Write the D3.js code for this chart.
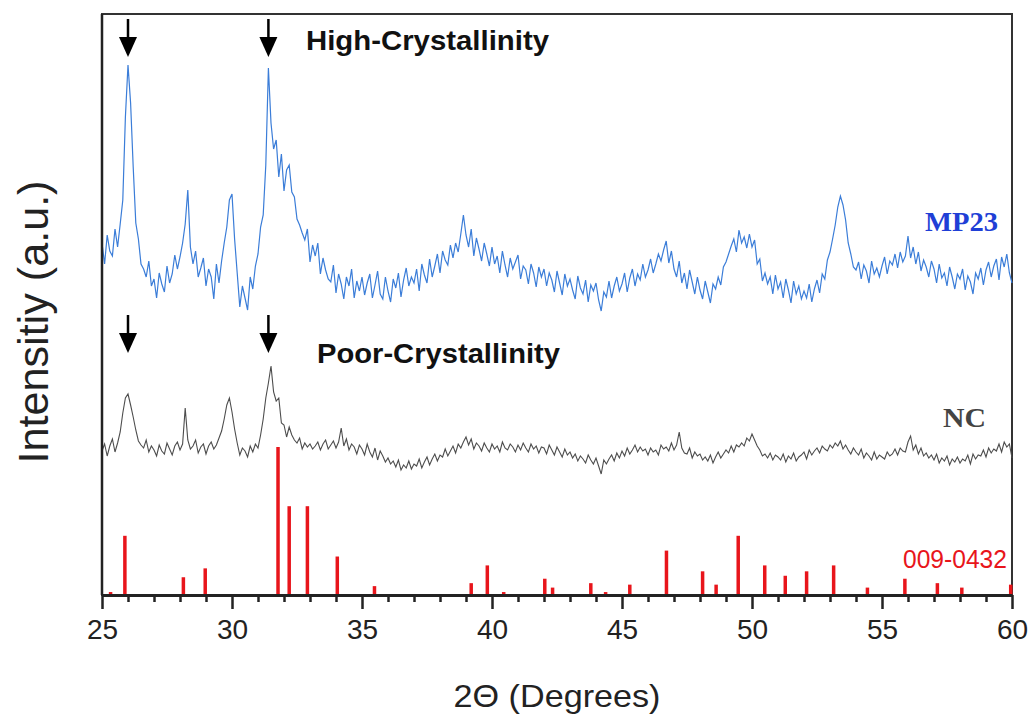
<!DOCTYPE html>
<html>
<head>
<meta charset="utf-8">
<script src="https://cdn.jsdelivr.net/npm/d3@7"></script>
<style>
  html, body { margin: 0; padding: 0; background: #fff; }
  svg { display: block; }
</style>
</head>
<body>
<svg id="chart" width="1034" height="716"></svg>
<script>
// ---------------- DATA ----------------
const angleStart = 25.0;   // 2-theta of first sample
const angleStep = 0.1;     // sampling step (degrees)

// MP23 (high crystallinity) pattern, a.u., 25.0 .. 60.0 step 0.1
const mp23 = [
  352,331,360,344,339,366,348,371,395,478,
  530,492,428,372,356,331,326,318,334,309,
  316,297,322,311,303,329,312,321,340,326,
  338,352,371,405,348,331,344,318,327,337,
  309,326,318,296,331,312,334,352,368,395,
  401,356,322,288,309,297,285,318,306,329,
  341,368,380,430,527,472,446,455,418,441,
  404,425,430,403,398,376,370,362,355,366,
  333,350,339,352,321,337,325,316,313,330,
  302,321,311,296,318,309,326,297,314,304,
  318,300,312,321,297,310,324,301,296,318,
  304,293,316,307,322,298,315,327,309,318,
  312,326,304,331,320,312,336,318,329,341,
  322,344,335,330,350,337,352,343,361,380,
  360,348,366,339,357,346,334,352,341,329,
  348,331,339,322,344,330,318,337,326,333,
  340,316,329,325,311,331,322,308,328,318,
  326,309,322,315,303,324,312,300,321,309,
  316,305,296,319,307,301,315,293,310,304,
  312,295,284,303,298,314,297,309,318,304,
  311,322,303,317,326,309,321,315,331,318,
  325,336,322,331,341,334,345,354,332,344,
  326,318,334,312,322,306,325,313,301,318,
  305,296,314,303,292,311,306,318,310,328,
  333,341,349,356,343,365,352,358,347,361,
  348,355,331,336,314,322,311,318,301,320,
  306,313,297,316,305,292,314,301,309,296,
  304,297,311,293,306,315,302,321,316,335,
  343,356,370,388,399,390,375,352,341,328,
  325,333,316,330,324,312,334,321,327,318,
  329,338,321,334,330,341,327,343,333,339,
  359,337,348,331,343,324,335,328,318,334,
  326,312,331,317,322,309,328,318,306,321,
  316,326,305,319,313,301,322,316,327,310,
  325,333,318,329,336,315,338,328,341,322,
  312
];

// NC (poor crystallinity) pattern, a.u., 25.0 .. 60.0 step 0.1
const nc = [
  144,151,139,149,156,143,152,163,182,197,
  201,190,178,165,154,150,147,155,143,149,
  145,139,150,144,141,152,146,140,149,153,
  145,151,187,155,146,149,155,142,148,151,
  141,149,153,146,150,157,164,176,190,197,
  183,166,152,140,147,144,138,149,143,151,
  147,160,176,197,212,229,203,194,197,172,
  170,158,168,160,155,152,157,146,152,148,
  151,146,149,153,145,151,155,146,150,154,
  147,153,167,149,156,145,151,148,141,150,
  146,140,151,143,138,147,135,144,139,133,
  137,131,134,128,135,125,130,127,134,126,
  131,129,136,127,133,138,130,136,141,134,
  140,138,146,139,144,149,142,151,147,153,
  158,150,156,146,152,149,144,152,147,143,
  151,146,149,143,153,147,145,151,148,143,
  150,145,152,147,143,151,146,149,142,148,
  147,141,150,145,140,148,143,138,146,140,
  143,137,141,134,139,136,132,140,135,131,
  137,129,121,135,131,136,140,134,142,137,
  144,139,147,141,145,150,143,148,144,146,
  140,147,143,145,140,150,146,148,144,152,
  145,150,163,147,142,141,147,137,143,139,
  141,135,138,134,140,132,138,143,137,141,
  145,142,149,143,150,148,152,149,157,154,
  161,155,149,145,139,141,137,142,135,140,
  138,135,141,133,139,136,142,134,138,140,
  143,136,145,140,144,147,142,149,146,144,
  150,147,152,149,154,146,150,145,141,147,
  143,140,146,137,142,139,135,143,136,140,
  138,136,143,139,141,146,140,147,144,143,
  153,159,145,150,141,147,139,142,137,140,
  135,141,132,137,134,139,130,136,133,138,
  132,136,134,140,131,141,136,140,139,145,
  138,147,142,146,144,151,143,153,148,151,
  137
];

// JCPDS 009-0432 reference lines (2-theta, relative intensity %)
const refAngles = [25.33,25.88,28.13,28.97,31.77,32.20,32.90,34.05,35.48,39.20,39.82,40.45,42.03,42.33,43.80,44.37,45.30,46.71,48.10,48.62,49.47,50.49,51.28,52.10,53.14,54.44,55.88,57.13,58.07,59.95];
const refIntensity = [2,40,12,18,100,60,60,26,6,8,20,2,11,5,8,2,7,30,16,7,40,20,13,16,20,5,11,8,5,7];

const xMajorTicks = [25,30,35,40,45,50,55,60];
const xMinorTicks = [26,27,28,29,31,32,33,34,36,37,38,39,41,42,43,44,46,47,48,49,51,52,53,54,56,57,58,59];

// marked peaks (arrows) and the intensity level at each arrow tip
const arrowAngles = [26.0, 31.4];
const arrowTipLevels = [538, 242];

// ---------------- CHART ----------------
const svg = d3.select("#chart");
const L = 102, R = 1012, T = 14, B = 595;

const x = d3.scaleLinear().domain([25, 60]).range([L, R]);
const y = d3.scaleLinear().domain([0, 581]).range([B, T]);
const yRef = d3.scaleLinear().domain([0, 100]).range([B, 447]);

const toPoints = arr => arr.map((v, i) => [angleStart + i * angleStep, v]);

const line = d3.line().x(d => x(d[0])).y(d => y(d[1]));

// frame
svg.append("rect")
  .attr("x", L).attr("y", T).attr("width", R - L).attr("height", B - T)
  .attr("fill", "none").attr("stroke", "#333").attr("stroke-width", 2);

// reference bars
svg.append("g").selectAll("line")
  .data(refAngles.map((a, i) => [a, refIntensity[i]]))
  .join("line")
  .attr("x1", d => x(d[0])).attr("x2", d => x(d[0]))
  .attr("y1", yRef(0)).attr("y2", d => yRef(d[1]))
  .attr("stroke", "#e8151b").attr("stroke-width", 3.5);

// NC pattern
svg.append("path")
  .datum(toPoints(nc))
  .attr("d", line)
  .attr("fill", "none").attr("stroke", "#4d4d4d").attr("stroke-width", 1.1);

// MP23 pattern
svg.append("path")
  .datum(toPoints(mp23))
  .attr("d", line)
  .attr("fill", "none").attr("stroke", "#3b7dd8").attr("stroke-width", 1.2);

// x axis (major + minor)
const axMajor = svg.append("g").attr("transform", `translate(0,${B})`)
  .call(d3.axisBottom(x).tickValues(xMajorTicks).tickSize(14).tickSizeOuter(0).tickPadding(10).tickFormat(d3.format("d")));
axMajor.select(".domain").attr("stroke", "#222").attr("stroke-width", 3);
axMajor.selectAll(".tick line").attr("stroke", "#222").attr("stroke-width", 2.5);
axMajor.selectAll(".tick text")
  .attr("font-family", "Liberation Sans, Arial, sans-serif")
  .attr("font-size", 28).attr("fill", "#222");

const axMinor = svg.append("g").attr("transform", `translate(0,${B})`)
  .call(d3.axisBottom(x).tickValues(xMinorTicks).tickSize(7).tickSizeOuter(0).tickFormat(""));
axMinor.select(".domain").remove();
axMinor.selectAll(".tick line").attr("stroke", "#222").attr("stroke-width", 2.5);

// left axis line
svg.append("line").attr("x1", L).attr("x2", L).attr("y1", T).attr("y2", B)
  .attr("stroke", "#222").attr("stroke-width", 2.5);

// arrows
const arrowG = svg.append("g");
arrowTipLevels.forEach(lvl => {
  arrowAngles.forEach(a => {
    const tx = x(a), ty = y(lvl);
    arrowG.append("line").attr("x1", tx).attr("x2", tx).attr("y1", ty - 38).attr("y2", ty - 10)
      .attr("stroke", "#000").attr("stroke-width", 2.5);
    arrowG.append("path")
      .attr("d", `M${tx - 9},${ty - 20} L${tx + 9},${ty - 20} L${tx},${ty} Z`)
      .attr("fill", "#000");
  });
});

// annotations
const sans = "Liberation Sans, Arial, sans-serif";
const serif = "Liberation Serif, Times New Roman, serif";

svg.append("text").attr("x", 306).attr("y", 50)
  .attr("font-family", sans).attr("font-weight", "bold").attr("font-size", 28)
  .attr("textLength", 243).attr("lengthAdjust", "spacingAndGlyphs")
  .attr("fill", "#111").text("High-Crystallinity");

svg.append("text").attr("x", 317).attr("y", 363)
  .attr("font-family", sans).attr("font-weight", "bold").attr("font-size", 28)
  .attr("textLength", 243).attr("lengthAdjust", "spacingAndGlyphs")
  .attr("fill", "#111").text("Poor-Crystallinity");

svg.append("text").attr("x", 925).attr("y", 231)
  .attr("font-family", serif).attr("font-weight", "bold").attr("font-size", 27)
  .attr("textLength", 73).attr("lengthAdjust", "spacingAndGlyphs")
  .attr("fill", "#1f3fd6").text("MP23");

svg.append("text").attr("x", 943).attr("y", 427)
  .attr("font-family", serif).attr("font-weight", "bold").attr("font-size", 28)
  .attr("textLength", 43).attr("lengthAdjust", "spacingAndGlyphs")
  .attr("fill", "#444").text("NC");

svg.append("text").attr("x", 903).attr("y", 568)
  .attr("font-family", sans).attr("font-size", 26)
  .attr("textLength", 104).attr("lengthAdjust", "spacingAndGlyphs")
  .attr("fill", "#e8151b").text("009-0432");

// axis titles
svg.append("text").attr("x", 557).attr("y", 707)
  .attr("text-anchor", "middle")
  .attr("font-family", sans).attr("font-size", 32)
  .attr("textLength", 207).attr("lengthAdjust", "spacingAndGlyphs")
  .attr("fill", "#222").text("2\u0398 (Degrees)");

svg.append("text")
  .attr("transform", "translate(48,322) rotate(-90)")
  .attr("text-anchor", "middle")
  .attr("font-family", sans).attr("font-size", 42)
  .attr("textLength", 283).attr("lengthAdjust", "spacingAndGlyphs")
  .attr("fill", "#222").text("Intensitiy (a.u.)");
</script>
</body>
</html>
